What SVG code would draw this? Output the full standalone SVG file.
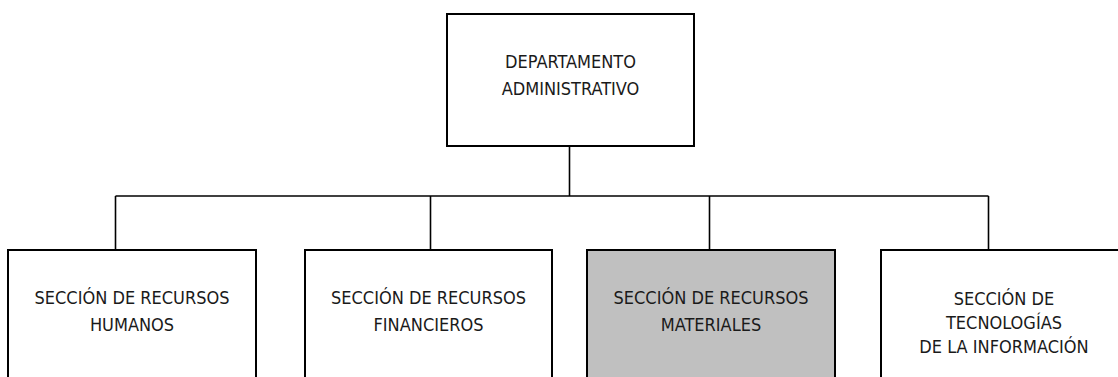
<svg xmlns="http://www.w3.org/2000/svg" width="1118" height="377" viewBox="0 0 1118 377">
<style>
.box{fill:#ffffff;stroke:#000000;stroke-width:2}
.gray{fill:#c0c0c0}
.conn{fill:none;stroke:#000000;stroke-width:1.6}
text{font-family:"DejaVu Sans Condensed","Liberation Sans",Arial,sans-serif;font-size:18px;fill:#1a1a1a;text-anchor:middle}
</style>
<rect x="0" y="0" width="1118" height="377" fill="#ffffff"/>
<g id="connectors">
<line class="conn" x1="569.5" y1="146" x2="569.5" y2="196"/>
<line class="conn" x1="115.5" y1="196" x2="988.5" y2="196"/>
<line class="conn" x1="115.5" y1="196" x2="115.5" y2="250"/>
<line class="conn" x1="430.5" y1="196" x2="430.5" y2="250"/>
<line class="conn" x1="709.5" y1="196" x2="709.5" y2="250"/>
<line class="conn" x1="988.5" y1="196" x2="988.5" y2="250"/>
</g>
<g id="dept">
<rect class="box" x="447" y="14" width="247" height="132"/>
<text x="570.5" y="68">DEPARTAMENTO</text>
<text x="570.5" y="95">ADMINISTRATIVO</text>
</g>
<g id="rrhh">
<rect class="box" x="8" y="250" width="248" height="140"/>
<text x="132" y="304">SECCIÓN DE RECURSOS</text>
<text x="132" y="331">HUMANOS</text>
</g>
<g id="rrff">
<rect class="box" x="305" y="250" width="247" height="140"/>
<text x="428.5" y="304">SECCIÓN DE RECURSOS</text>
<text x="428.5" y="331">FINANCIEROS</text>
</g>
<g id="rrmm">
<rect class="box gray" x="587" y="250" width="248" height="140"/>
<text x="711" y="304">SECCIÓN DE RECURSOS</text>
<text x="711" y="331">MATERIALES</text>
</g>
<g id="ti">
<rect class="box" x="881" y="250" width="248" height="140"/>
<text x="1004" y="305">SECCIÓN DE</text>
<text x="1004" y="329">TECNOLOGÍAS</text>
<text x="1004" y="353">DE LA INFORMACIÓN</text>
</g>
</svg>
